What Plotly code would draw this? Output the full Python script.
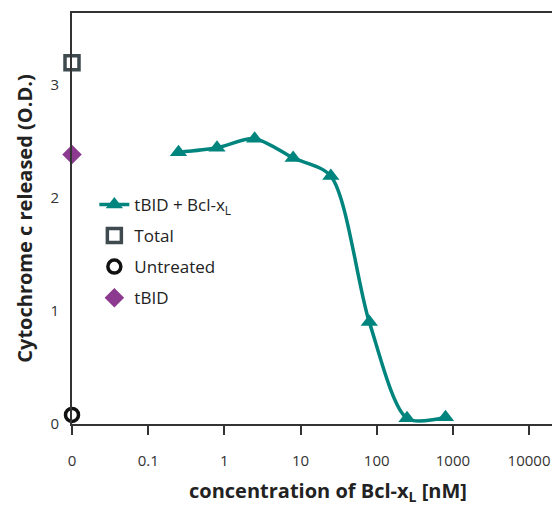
import plotly.graph_objects as go

conc = [0.25, 0.8, 2.5, 8, 25, 80, 250, 800]
od_tbid_bcl = [2.40, 2.44, 2.52, 2.35, 2.19, 0.90, 0.05, 0.06]
zero_pos = [0.01]
od_total = [3.19]
od_untreated = [0.08]
od_tbid = [2.38]
x_tickvals = [0.01, 0.1, 1, 10, 100, 1000, 10000]
x_ticktext = ["0", "0.1", "1", "10", "100", "1000", "10000"]
y_tickvals = [0, 1, 2, 3]

teal = "#00857e"
font = "Open Sans"

fig = go.Figure()
fig.add_trace(go.Scatter(
    x=conc, y=od_tbid_bcl, mode="lines+markers", name="tBID + Bcl-x<sub>L</sub>",
    legendgroup="a",
    line=dict(color=teal, width=3.5, shape="spline", smoothing=0.8),
    marker=dict(symbol="triangle-up", size=15, color=teal), cliponaxis=False))
fig.add_trace(go.Scatter(
    x=zero_pos, y=od_total, mode="markers", name="Total", legendgroup="b",
    marker=dict(symbol="square-open", size=14, color="#3f4a4f", line=dict(width=3.5, color="#3f4a4f")),
    cliponaxis=False))
fig.add_trace(go.Scatter(
    x=zero_pos, y=od_untreated, mode="markers", name="Untreated", legendgroup="c",
    marker=dict(symbol="circle-open", size=13, color="#111111", line=dict(width=3.5, color="#111111")),
    cliponaxis=False))
fig.add_trace(go.Scatter(
    x=zero_pos, y=od_tbid, mode="markers", name="tBID", legendgroup="d",
    marker=dict(symbol="diamond", size=15, color="#8b3a8f"),
    cliponaxis=False))

fig.update_layout(
    width=552, height=502,
    margin=dict(l=64, r=2, t=5, b=86),
    plot_bgcolor="white", paper_bgcolor="white",
    font=dict(family=font, color="#333333", size=15),
    showlegend=True,
    legend=dict(x=0.046, y=0.577, xanchor="left", yanchor="top",
                font=dict(size=17, color="#222222"), bgcolor="rgba(0,0,0,0)",
                itemwidth=30, tracegroupgap=6),
    xaxis=dict(type="log", range=[-2, 4.38], tickvals=x_tickvals, ticktext=x_ticktext,
               showgrid=False, zeroline=False, showline=True, linecolor="#333333", linewidth=2,
               mirror=True, ticks="outside", ticklen=9, tickwidth=2, tickcolor="#333333",
               ticklabelstandoff=13, automargin=False),
    yaxis=dict(range=[0, 3.63], tickvals=y_tickvals, showgrid=False, zeroline=False,
               showline=True, linecolor="#333333", linewidth=2, mirror=True, ticks="",
               ticklabelstandoff=8, automargin=False,
               title=dict(text="<b>Cytochrome c released (O.D.)</b>",
                          font=dict(size=20, color="#222222"), standoff=12)),
    annotations=[dict(text="<b>concentration of Bcl-x<sub>L</sub> [nM]</b>",
                      xref="paper", yref="paper", x=0.527, y=-0.165,
                      xanchor="center", yanchor="middle", showarrow=False,
                      font=dict(size=20, color="#222222"))],
)

fig.write_html("out.html")
